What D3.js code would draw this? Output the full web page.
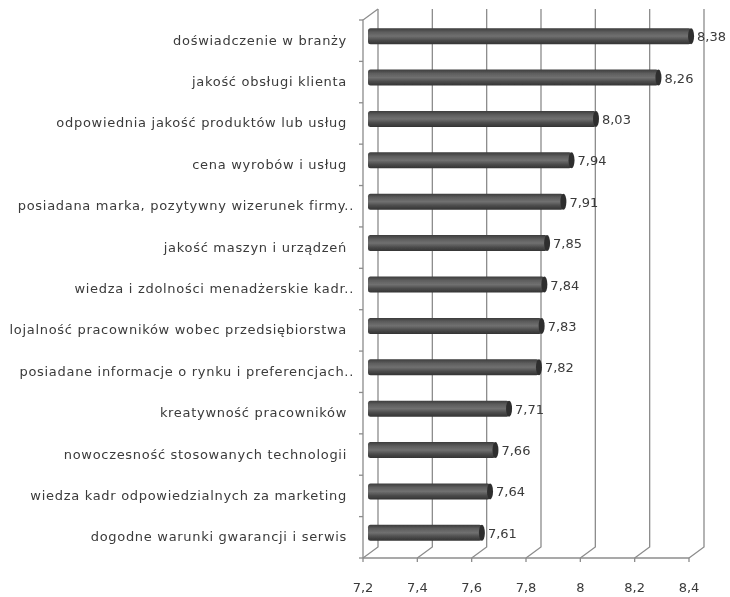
<!DOCTYPE html>
<html>
<head>
<meta charset="utf-8">
<script src="https://cdn.jsdelivr.net/npm/d3@7"></script>
<style>
  body { margin: 0; background: #fff; }
  text { font-family: "DejaVu Sans", sans-serif; fill: #3a3a3a; }
</style>
</head>
<body>
<svg width="730" height="597"></svg>
<script>
// chart data
const categories = [
  'doświadczenie w branży',
  'jakość obsługi klienta',
  'odpowiednia jakość produktów lub usług',
  'cena wyrobów i usług',
  'posiadana marka, pozytywny wizerunek firmy..',
  'jakość maszyn i urządzeń',
  'wiedza i zdolności menadżerskie kadr..',
  'lojalność pracowników wobec przedsiębiorstwa',
  'posiadane informacje o rynku i preferencjach..',
  'kreatywność pracowników',
  'nowoczesność stosowanych technologii',
  'wiedza kadr odpowiedzialnych za marketing',
  'dogodne warunki gwarancji i serwis'
];
const values = [8.38, 8.26, 8.03, 7.94, 7.91, 7.85, 7.84, 7.83, 7.82, 7.71, 7.66, 7.64, 7.61];
const ticks = [7.2, 7.4, 7.6, 7.8, 8, 8.2, 8.4];

const svg = d3.select('svg');
const comma = d => String(d).replace('.', ',');

// front edge of the 3d box, depth goes up and right
const depthX = 15, depthY = -11;
const x = d3.scaleLinear().domain([7.2, 8.4]).range([363, 689]);
const y = d3.scaleBand().domain(categories).range([20, 558]);

const axisColor = '#8c8c8c';
const blur = svg.append('defs').append('filter').attr('id', 'soft');
blur.append('feGaussianBlur').attr('stdDeviation', 0.45);

const grad = svg.select('defs').append('linearGradient')
  .attr('id', 'barFill').attr('x1', 0).attr('y1', 0).attr('x2', 0).attr('y2', 1);
[[0, '#3c3c3c'], [0.25, '#5e5e5e'], [0.5, '#707070'], [0.75, '#4c4c4c'], [1, '#333333']]
  .forEach(s => grad.append('stop').attr('offset', s[0]).attr('stop-color', s[1]));

const chart = svg.append('g').attr('filter', 'url(#soft)');

// back wall gridlines and floor diagonals
const grid = chart.append('g').attr('stroke', axisColor).attr('stroke-width', 1.3).attr('fill', 'none');
grid.selectAll('path').data(ticks).enter().append('path')
  .attr('d', d => `M${x(d)},558 l${depthX},${depthY} V${20 + depthY}`);

// left wall + floor front edges
grid.append('path').attr('d', `M${x(7.2)},558 V20 l${depthX},${depthY}`);
grid.append('path').attr('d', `M${x(7.2)},558 H${x(8.4)}`);

// category ticks on left edge
grid.selectAll('line.cat').data(d3.range(14)).enter().append('line')
  .attr('class', 'cat')
  .attr('x1', 359).attr('x2', 363)
  .attr('y1', i => 20 + i * y.step())
  .attr('y2', i => 20 + i * y.step());

// value ticks below floor
grid.selectAll('line.val').data(ticks).enter().append('line')
  .attr('class', 'val')
  .attr('x1', d => x(d)).attr('x2', d => x(d))
  .attr('y1', 558).attr('y2', 562);

// bars sit half way into the depth
const barH = 16;
const barMidX = d => x(d) + depthX / 2;
const barY = c => y(c) + y.bandwidth() / 2 + depthY / 2 - barH / 2 + 1;
const rows = categories.map((c, i) => ({ c, v: values[i] }));

const bars = chart.append('g').selectAll('g').data(rows).enter().append('g');
bars.append('rect')
  .attr('x', 368)
  .attr('y', d => barY(d.c))
  .attr('width', d => barMidX(d.v) - 368)
  .attr('height', barH)
  .attr('rx', 2.5)
  .attr('fill', 'url(#barFill)');
// end cap of the cylinder
bars.append('ellipse')
  .attr('cx', d => barMidX(d.v))
  .attr('cy', d => barY(d.c) + barH / 2)
  .attr('rx', 3)
  .attr('ry', barH / 2)
  .attr('fill', '#2f2f2f');

// value labels
bars.append('text')
  .attr('x', d => barMidX(d.v) + 6)
  .attr('y', d => barY(d.c) + barH / 2 + 5)
  .attr('font-size', 13)
  .text(d => comma(d.v));

// category labels, the cut ones stick out a bit more
chart.append('g').selectAll('text').data(categories).enter().append('text')
  .attr('x', d => d.endsWith('..') ? 354 : 347)
  .attr('y', d => y(d) + y.bandwidth() / 2 + 4)
  .attr('text-anchor', 'end')
  .attr('font-size', 13)
  .attr('letter-spacing', 0.7)
  .text(d => d);

// bottom axis labels
chart.append('g').selectAll('text').data(ticks).enter().append('text')
  .attr('x', d => x(d))
  .attr('y', 592)
  .attr('text-anchor', 'middle')
  .attr('font-size', 13)
  .text(comma);
</script>
</body>
</html>
